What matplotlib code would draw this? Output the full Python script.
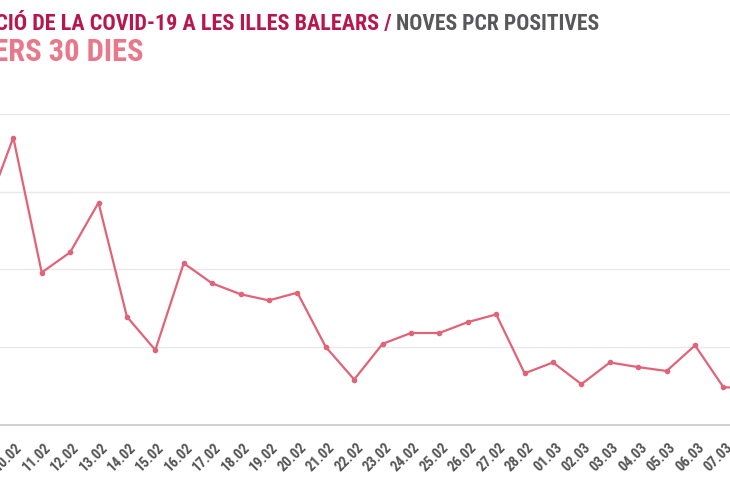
import matplotlib.pyplot as plt
from matplotlib.transforms import ScaledTranslation

# days shown (the chart is a crop, so first and last fall partly outside)
dates = ['09.02', '10.02', '11.02', '12.02', '13.02', '14.02', '15.02', '16.02',
         '17.02', '18.02', '19.02', '20.02', '21.02', '22.02', '23.02', '24.02',
         '25.02', '26.02', '27.02', '28.02', '01.03', '02.03', '03.03', '04.03',
         '05.03', '06.03', '07.03', '08.03']
# new positive PCRs per day
pcr = [271, 370, 196, 222, 286, 139, 96, 208, 182, 168, 160, 170, 100, 58,
       104, 118, 118, 132, 142, 66, 80, 52, 80, 74, 69, 102, 48, 47]
gridvals = [0, 100, 200, 300, 400]

title_main = 'EVOLUCIÓ DE LA COVID-19 A LES ILLES BALEARS /'
title_sub = 'NOVES PCR POSITIVES'
title_2 = 'DARRERS 30 DIES'

fonts = ['Roboto Condensed', 'Liberation Sans Narrow', 'Roboto', 'DejaVu Sans']

fig = plt.figure(figsize=(7.3, 5), dpi=100)
ax = fig.add_axes([0, 0.151, 1, 0.6204])

x = list(range(len(dates)))
ax.plot(x, pcr, color='#e06378', linewidth=1.6, marker='o', markersize=3, clip_on=False)

ax.set_xticks(x)
ax.set_xticklabels(dates, rotation=45, ha='center', va='center',
                   fontsize=10.5, fontweight='bold', color='#555555', family=fonts)
ax.tick_params(axis='x', length=0, pad=23.4)
shift = ScaledTranslation(-0.05, 0, fig.dpi_scale_trans)
for lab in ax.get_xticklabels():
    lab.set_transform(lab.get_transform() + shift)

ax.set_xlim(0.532, 26.23)
ax.set_ylim(0, 400)
ax.set_yticks(gridvals)
ax.yaxis.grid(True, color='#e8e8e8', linewidth=1)
ax.set_axisbelow(True)
ax.tick_params(axis='y', left=False, labelleft=False)
for s in ['top', 'right', 'left']:
    ax.spines[s].set_visible(False)
ax.spines['bottom'].set_color('#cccccc')
ax.spines['bottom'].set_linewidth(1.3)

fig.text(391.7 / 730, 1 - 30 / 500, title_main, ha='right', va='baseline',
         fontsize=15.9, fontweight='bold', color='#b8174e', family=fonts)
fig.text(395.7 / 730, 1 - 30 / 500, title_sub, ha='left', va='baseline',
         fontsize=15.6, fontweight='bold', color='#58585a', family=fonts)
fig.text(144 / 730, 1 - 61 / 500, title_2, ha='right', va='baseline',
         fontsize=22, fontweight='bold', color='#e8788a', family=fonts)

plt.savefig('out.png', dpi=100)
